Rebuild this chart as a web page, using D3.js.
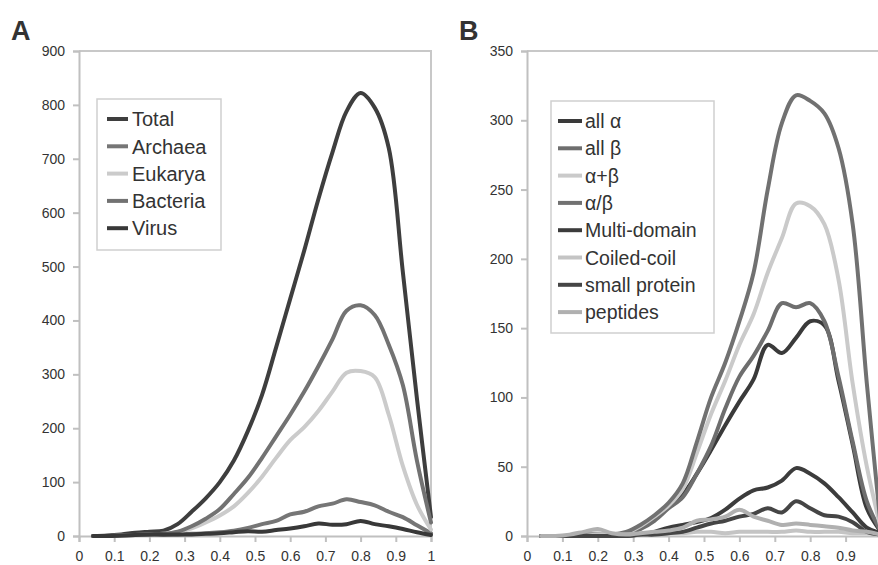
<!DOCTYPE html>
<html><head><meta charset="utf-8">
<script src="https://cdn.jsdelivr.net/npm/d3@7"></script>
<style>
body{margin:0;background:#fff;}
svg text{font-family:"Liberation Sans",Arial,sans-serif;fill:#333;}
</style></head>
<body><svg id="c" width="878" height="565"></svg>
<script>
// ---------- data ----------
const xVals = [0.04,0.08,0.12,0.16,0.20,0.24,0.28,0.32,0.36,0.40,0.44,0.48,0.52,0.56,0.60,0.64,0.68,0.72,0.76,0.80,0.84,0.88,0.92,0.96,1.00];
const xTickLabels = ["0","0.1","0.2","0.3","0.4","0.5","0.6","0.7","0.8","0.9","1"];
const xTickValues = [0,0.1,0.2,0.3,0.4,0.5,0.6,0.7,0.8,0.9,1];

// Panel A
const seriesNamesA = ["Total","Archaea","Eukarya","Bacteria","Virus"];
const totalA    = [0,1,3,6,8,10,22,45,70,100,140,195,262,350,440,530,625,712,788,822,795,720,490,255,35];
const archaeaA  = [0,0,1,2,2,2,3,4,5,7,10,15,22,28,40,45,55,60,68,63,57,45,35,20,5];
const eukaryaA  = [0,0,1,2,3,4,7,14,25,38,55,80,110,145,178,202,232,268,303,306,295,225,130,58,12];
const bacteriaA = [0,0,1,2,3,4,8,18,32,50,78,108,145,185,225,268,315,365,418,428,410,355,280,140,25];
const virusA    = [0,0,1,2,3,3,3,3,4,5,7,9,8,11,14,18,23,21,22,28,22,18,13,7,2];
const yTicksA = [0,100,200,300,400,500,600,700,800,900];

// Panel B
const seriesNamesB = ["all α","all β","α+β","α/β","Multi-domain","Coiled-coil","small protein","peptides"];
const allAlphaB = [0,0,0,0,1,1,2,6,13,22,30,45,62,80,97,113,138,132,143,155,152,112,66,20,3];
const allBetaB  = [0,0,0,0,1,1,2,5,11,20,28,45,65,92,115,130,148,168,165,168,155,115,68,25,3];
const aPlusBB   = [0,0,0,1,2,1,2,7,14,22,34,60,88,112,138,160,190,215,240,238,225,185,110,50,5];
const aSlashBB  = [0,0,0,1,1,1,3,8,15,24,38,68,100,125,155,190,250,298,318,314,305,280,225,110,5];
const multiB    = [0,0,0,0,0,0,0,1,3,6,8,10,13,19,27,33,35,40,49,45,38,28,17,6,2];
const coiledB   = [0,0,0,0,1,1,1,1,1,2,2,3,3,2,3,3,3,3,4,3,3,3,2,2,1];
const smallB    = [0,0,0,0,0,0,0,1,1,2,3,6,9,11,14,16,20,17,25,20,15,14,10,3,1];
const peptidesB = [0,0,1,3,5,2,1,2,3,4,6,11,12,14,19,14,11,8,9,8,7,6,4,3,1];
const yTicksB = [0,50,100,150,200,250,300,350];

// ---------- drawing ----------
const svg = d3.select("#c");
svg.append("rect").attr("width",878).attr("height",565).attr("fill","#fff");

function panel(opt){
  const g = svg.append("g");
  const x = d3.scaleLinear().domain([0,1]).range([opt.left, opt.right]);
  const y = d3.scaleLinear().domain([0,opt.ymax]).range([536,51]);
  g.append("path").attr("d",`M${opt.left},51H${opt.right}V536`).attr("fill","none")
    .attr("stroke","#c8c8c8").attr("stroke-width",2);
  const ya = g.append("g").attr("transform",`translate(${opt.left},0)`)
    .call(d3.axisLeft(y).tickValues(opt.yTicks).tickSize(6).tickPadding(8).tickFormat(d3.format("d")));
  const xa = g.append("g").attr("transform",`translate(0,536)`)
    .call(d3.axisBottom(x).tickValues(xTickValues).tickSize(6).tickPadding(9).tickFormat((d,i)=>xTickLabels[i]));
  [ya,xa].forEach(a=>{
    a.select(".domain").attr("stroke","#c0c0c0").attr("stroke-width",2);
    a.selectAll(".tick line").attr("stroke","#c0c0c0").attr("stroke-width",2);
    a.selectAll(".tick text").style("font-size","14px").attr("fill","#333");
  });
  const line = d3.line().x((d,i)=>x(xVals[i])).y(d=>y(d)).curve(d3.curveCatmullRom.alpha(0.5));
  opt.series.forEach(s=>{
    g.append("path").datum(s.values).attr("d",line).attr("fill","none")
      .attr("stroke",s.color).attr("stroke-width",4).attr("stroke-linejoin","round").attr("stroke-linecap","round");
  });
  const L = opt.legend;
  g.append("rect").attr("x",L.x).attr("y",L.y).attr("width",L.w).attr("height",L.h)
    .attr("fill","#fff").attr("stroke","#cfcfcf").attr("stroke-width",1.5);
  opt.series.forEach((s,i)=>{
    const yy = L.y0 + i*L.dy;
    g.append("line").attr("x1",L.lx1).attr("x2",L.lx2).attr("y1",yy).attr("y2",yy)
      .attr("stroke",s.color).attr("stroke-width",4);
    g.append("text").attr("x",L.tx).attr("y",yy).attr("dy","0.36em")
      .style("font-size",L.fs+"px").attr("fill","#333").text(s.name);
  });
  g.append("text").attr("x",opt.labelX).attr("y",40).style("font-size","27px")
    .style("font-weight","bold").attr("fill","#222").text(opt.label);
}

panel({left:79,right:431,ymax:900,yTicks:yTicksA,label:"A",labelX:11,
  series:[
    {name:seriesNamesA[0],values:totalA,color:"#3e3e3e"},
    {name:seriesNamesA[1],values:archaeaA,color:"#767676"},
    {name:seriesNamesA[2],values:eukaryaA,color:"#cbcbcb"},
    {name:seriesNamesA[3],values:bacteriaA,color:"#727272"},
    {name:seriesNamesA[4],values:virusA,color:"#383838"}
  ],
  legend:{x:97,y:99,w:124,h:151,y0:119,dy:27.3,lx1:107,lx2:128,tx:132,fs:20}
});

panel({left:527,right:881,ymax:350,yTicks:yTicksB,label:"B",labelX:459,
  series:[
    {name:seriesNamesB[0],values:allAlphaB,color:"#3a3a3a"},
    {name:seriesNamesB[1],values:allBetaB,color:"#6e6e6e"},
    {name:seriesNamesB[2],values:aPlusBB,color:"#cacaca"},
    {name:seriesNamesB[3],values:aSlashBB,color:"#717171"},
    {name:seriesNamesB[4],values:multiB,color:"#3c3c3c"},
    {name:seriesNamesB[5],values:coiledB,color:"#c4c4c4"},
    {name:seriesNamesB[6],values:smallB,color:"#454545"},
    {name:seriesNamesB[7],values:peptidesB,color:"#b0b0b0"}
  ],
  legend:{x:551,y:101,w:163,h:232,y0:121,dy:27.3,lx1:558,lx2:582,tx:585,fs:19.5}
});
</script></body></html>
